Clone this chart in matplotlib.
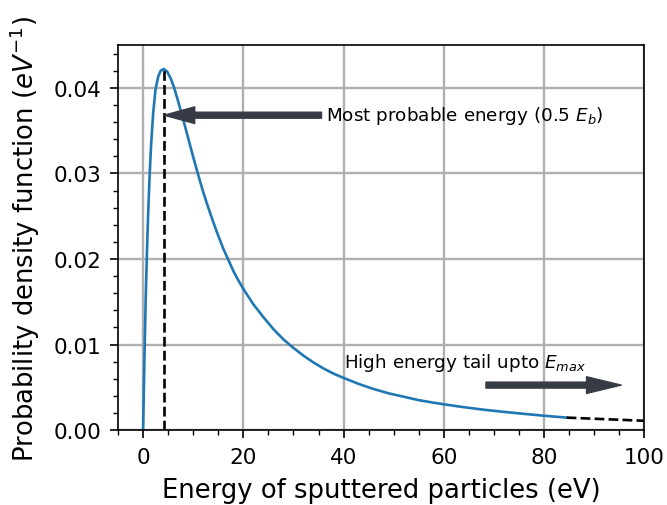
import matplotlib
matplotlib.use('Agg')
import matplotlib.pyplot as plt

# values (eV, 1/eV)
energy = [0, 0.25, 0.5, 0.75, 1.0, 1.3, 1.6, 2.0, 2.47, 3.0, 3.5, 4.13, 4.8, 5.5, 6.2,
          7.0, 8.0, 9.0, 10.0, 11.0, 12.0, 13.0, 14.0, 15.0, 16.0, 17.0, 18.0, 19.0, 20.0,
          22.0, 24.0, 26.0, 28.0, 30.0, 32.0, 34.0, 36.0, 38.0, 40.0, 43.0, 46.0, 49.0,
          52.0, 55.0, 58.0, 61.0, 64.0, 68.0, 72.0, 76.0, 80.0, 84.5]
pdf = [0, 0.0080, 0.0150, 0.0205, 0.0252, 0.0298, 0.0334, 0.0370, 0.0398, 0.0413, 0.0420,
       0.0422, 0.0419, 0.0411, 0.0400, 0.0384, 0.0363, 0.0341, 0.0319, 0.0298, 0.0278,
       0.0260, 0.0243, 0.0227, 0.0212, 0.0199, 0.0186, 0.0175, 0.0165, 0.0147, 0.0132,
       0.0118, 0.0106, 0.0096, 0.0087, 0.0079, 0.0072, 0.0066, 0.0061, 0.0054, 0.0048,
       0.0043, 0.0039, 0.0035, 0.0032, 0.00293, 0.00268, 0.00238, 0.00213, 0.00190,
       0.00168, 0.00146]
tail_energy = [84.5, 100]
tail_pdf = [0.00146, 0.00109]
peak_energy = 4.2
peak_pdf = 0.0422

fig = plt.figure(figsize=(6.67, 5.06), dpi=100)
ax = fig.add_axes([0.177, 0.148, 0.789, 0.761])

ax.plot(energy, pdf, color='#1f77b4', lw=1.9)
ax.plot(tail_energy, tail_pdf, 'k--', lw=1.9)
ax.plot([peak_energy, peak_energy], [0, peak_pdf], 'k--', lw=1.9)

arrow_col = '#363b46'
ax.annotate('', xy=(peak_energy, 0.0368), xytext=(35.6, 0.0368),
            arrowprops=dict(color=arrow_col, width=4.3, headwidth=12, headlength=22, shrink=0))
ax.text(36.4, 0.0368, 'Most probable energy (0.5 $E_b$)', fontsize=13.2, va='center', ha='left')

ax.annotate('', xy=(95.4, 0.00526), xytext=(68.4, 0.00526),
            arrowprops=dict(color=arrow_col, width=4.3, headwidth=12, headlength=25, shrink=0))
ax.text(40, 0.0080, 'High energy tail upto $E_{max}$', fontsize=13.2, va='center', ha='left')

ax.set_xlim(-5, 100)
ax.set_ylim(0, 0.045)
ax.set_xticks([0, 20, 40, 60, 80, 100])
ax.set_yticks([0, 0.01, 0.02, 0.03, 0.04])
ax.minorticks_on()
ax.grid(True, which='major', color='#b0b0b0', lw=1.7)
ax.tick_params(which='major', labelsize=15.5, length=6, width=1.2, pad=6)
ax.tick_params(which='minor', length=3.5, width=1.0)
for s in ax.spines.values():
    s.set_linewidth(1.2)

ax.set_xlabel('Energy of sputtered particles (eV)', fontsize=18.6, labelpad=7)
ax.set_ylabel('Probability density function ($eV^{-1}$)', fontsize=18.6, labelpad=8)

fig.savefig('out.png', dpi=100)
